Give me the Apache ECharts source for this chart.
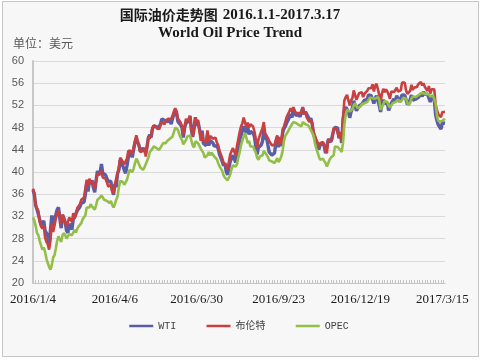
<!DOCTYPE html>
<html>
<head>
<meta charset="utf-8">
<script src="https://cdn.jsdelivr.net/npm/echarts@6/dist/echarts.min.js"></script>
<style>
html,body{margin:0;padding:0;background:#ffffff;}
#wrap{position:relative;width:482px;height:361px;}
#bg{position:absolute;left:2px;top:1px;width:475px;height:354px;border:1.5px solid #c6c6c6;background:#f7f7f7;}
#chart{position:absolute;left:0;top:0;width:482px;height:361px;}
</style>
</head>
<body>
<div id="wrap"><div id="bg"></div><div id="chart"></div></div>
<script>
// Trading-day categories: weekdays from start to end, minus days missing in the source
const startDate = '2016-01-04';
const endDate = '2017-03-17';
const missingDays = ['2016-02-08','2016-02-09','2016-02-10','2016-02-11','2016-02-12','2016-04-04','2017-01-02'];

const seriesNames = ['WTI', '布伦特', 'OPEC'];

const wti = [
36.76,35.97,33.97,33.27,33.16,31.41,30.44,30.48,31.20,29.42,29.0,28.46,26.55,29.53,32.19,30.34,31.45,32.30,33.22,33.62,
31.62,29.88,32.28,31.72,30.89,
29.44,29.04,30.66,30.77,29.64,
31.48,31.87,32.15,33.07,32.78,
33.75,34.40,34.66,34.57,35.92,
37.90,36.50,38.29,37.84,38.50,
37.18,36.34,38.46,40.20,39.44,
39.91,41.45,39.79,39.46,39.46,
39.39,38.28,38.32,38.34,36.79,
35.89,37.75,
37.26,39.72,
40.36,42.17,41.76,41.50,40.36,
39.78,41.08,42.63,43.18,43.73,
42.64,44.04,45.33,46.03,45.92,
44.78,43.65,43.78,44.32,44.66,
43.44,44.66,46.23,46.70,46.21,
47.72,48.31,48.19,48.16,47.75,
48.08,48.62,49.56,49.48,49.33,
49.33,49.10,49.01,49.17,48.62,
49.69,50.36,51.23,50.56,49.07,
48.88,48.49,48.01,46.21,47.98,
48.83,48.85,49.13,50.11,47.64,
46.33,47.85,49.88,48.33,48.99,
48.99,46.60,47.43,45.14,45.41,
44.76,46.80,44.75,45.68,45.95,
45.24,44.65,44.94,44.75,44.19,
43.13,42.92,41.92,41.14,41.60,
40.06,39.51,40.83,41.93,41.80,
43.02,42.77,41.71,43.49,44.49,
45.74,46.58,46.79,48.22,48.52,
47.05,48.10,46.77,47.33,47.64,
46.98,46.35,44.70,43.16,44.44,
44.44,44.83,45.50,47.62,45.88,
46.29,44.90,43.58,43.91,43.03,
43.30,43.44,45.34,46.32,44.48,
45.93,44.67,47.05,47.83,48.24,
48.81,48.69,49.83,50.44,49.81,
51.35,50.79,50.18,50.44,50.35,
49.94,50.29,51.60,50.43,50.85,
50.52,49.96,49.18,49.72,48.70,
46.86,46.67,45.34,44.66,44.07,
44.89,44.98,45.27,44.66,43.41,
43.32,45.81,45.57,45.42,45.69,
47.49,48.03,47.96,47.96,46.06,
47.08,45.23,49.44,51.06,51.68,
51.79,50.93,49.77,50.84,51.50,
52.83,52.98,51.04,50.90,51.90,
52.12,52.23,52.49,52.95,53.02,
53.02,53.90,54.06,53.77,53.72,
52.33,53.26,53.76,53.99,
51.96,50.82,52.25,53.01,52.37,
52.37,52.48,51.08,51.37,52.42,
52.75,53.18,52.75,53.78,53.17,
52.63,52.81,53.88,53.54,53.83,
53.01,52.17,52.34,53.00,53.86,
52.93,53.20,53.11,53.36,53.40,
53.40,54.06,53.59,54.45,53.99,
54.05,54.01,53.83,52.61,53.33,
53.20,53.14,50.28,49.28,48.49,
48.40,47.72,48.86,48.75,48.78
];

const brent = [
37.0,36.0,34.0,33.4,33.0,31.0,30.2,29.8,30.4,28.2,27.4,27.0,26.0,27.8,30.6,29.2,30.3,31.6,32.4,33.2,
32.0,30.6,32.3,31.6,30.9,
30.2,30.0,31.8,32.0,31.0,
32.6,31.6,32.5,33.5,33.4,
34.2,35.0,35.2,35.4,37.0,
38.6,37.6,38.8,38.0,38.4,
37.6,37.0,38.4,39.6,39.4,
39.8,40.2,39.0,38.8,38.8,
38.2,37.4,37.2,37.6,36.6,
36.2,37.8,
37.6,39.8,
40.8,42.6,42.2,42.0,41.4,
41.2,42.4,43.8,43.6,43.8,
43.2,44.4,45.6,46.6,46.5,
44.6,43.6,43.8,43.8,44.3,
42.8,44.4,46.4,46.0,46.8,
48.0,48.4,48.3,48.0,47.9,
47.7,48.0,49.0,48.9,48.6,
49.3,49.5,49.6,49.8,49.5,
50.2,50.9,51.5,50.9,49.6,
49.4,48.9,48.2,46.8,48.3,
49.6,49.0,49.0,50.1,47.6,
46.4,47.7,49.7,48.8,49.4,
49.2,45.6,47.0,45.6,45.9,
45.4,47.5,45.4,46.5,46.7,
46.0,46.2,46.2,45.3,44.8,
43.8,43.9,42.5,41.7,41.5,
41.1,40.6,41.9,43.2,43.2,
44.3,44.0,43.0,44.7,45.9,
47.2,48.2,48.8,49.8,49.8,
48.1,48.9,48.0,48.6,48.9,
48.2,47.3,46.0,44.4,45.8,
46.6,46.3,47.9,49.0,47.0,
47.3,46.1,45.6,45.6,44.8,
44.9,44.9,45.8,46.6,44.9,
46.3,45.0,47.7,48.2,48.1,
49.9,49.9,50.9,51.5,50.9,
51.7,51.0,50.6,50.7,50.6,
50.4,50.6,51.7,50.4,50.8,
49.8,49.8,49.0,49.5,48.7,
47.3,47.1,45.9,45.4,44.6,
45.2,45.0,45.4,44.8,43.8,
43.4,46.0,45.6,45.5,45.9,
47.9,48.1,47.9,48.0,46.2,
47.2,45.4,49.5,52.9,53.5,
53.9,52.9,52.0,52.9,53.3,
54.7,54.7,53.0,52.9,54.2,
53.9,54.4,53.5,54.1,54.2,
54.6,55.1,55.2,55.1,55.8,
54.5,55.5,55.9,56.1,
53.9,52.6,54.1,55.0,54.4,
54.9,54.5,53.9,53.2,54.5,
54.2,54.4,54.1,55.2,54.5,
54.2,54.7,56.1,55.9,56.1,
54.7,54.1,54.1,54.6,55.7,
54.8,55.2,55.0,55.3,55.8,
56.0,56.2,55.6,56.0,55.3,
55.0,54.6,55.5,54.1,54.9,
54.9,54.9,52.1,51.2,50.4,
50.4,49.9,50.8,50.7,50.8
];

const opec = [
31.8,31.2,30.3,29.0,28.6,27.6,26.8,26.0,26.4,25.6,24.4,23.6,22.9,22.4,23.2,24.6,25.0,26.2,27.6,28.4,
28.6,27.4,28.6,29.0,28.6,
28.0,28.2,28.8,29.0,28.6,
28.9,29.6,29.1,29.8,30.2,
30.4,30.8,31.5,31.6,32.2,
33.6,33.4,33.6,34.2,33.8,
33.9,33.2,34.0,35.0,35.3,
35.4,35.8,35.4,35.0,34.9,
34.8,34.6,34.4,34.8,34.1,
33.6,34.2,
35.0,35.6,
37.3,38.4,38.5,38.2,37.7,
37.4,38.6,39.5,40.4,40.2,
40.0,40.6,41.6,42.4,42.0,
41.4,40.8,40.6,40.4,40.8,
41.4,41.2,42.6,43.6,43.8,
44.2,44.6,44.6,44.3,44.2,
44.0,44.2,44.8,45.2,45.0,
45.2,45.6,45.8,46.0,45.9,
46.4,47.2,48.0,48.3,47.6,
46.8,46.2,45.8,45.0,44.9,
45.8,46.4,46.5,46.6,46.4,
44.8,44.4,45.5,45.8,45.2,
45.0,44.2,43.8,43.4,42.6,
42.4,43.0,43.6,43.0,43.5,
43.3,42.8,42.5,42.3,41.6,
41.0,40.6,40.2,39.4,39.0,
38.8,38.5,38.8,39.6,40.6,
41.2,41.4,41.0,41.4,42.6,
43.6,44.8,45.6,46.4,47.0,
46.2,45.2,45.6,44.6,44.8,
44.6,44.0,43.5,42.6,42.2,
42.8,43.0,43.0,43.8,43.6,
43.1,42.7,42.1,41.8,41.9,
41.6,41.6,41.8,42.5,41.8,
42.2,42.8,43.8,45.6,46.5,
46.8,47.3,47.6,48.2,48.6,
49.0,49.3,48.8,48.6,48.5,
48.5,48.2,49.0,49.1,48.6,
48.6,48.4,48.0,47.6,47.6,
46.6,45.3,44.3,43.6,42.8,
42.2,42.0,42.4,42.0,41.6,
41.0,41.2,42.2,42.6,42.5,
43.0,44.6,44.9,44.5,44.4,
44.0,43.6,45.2,48.5,50.2,
51.2,51.5,50.9,50.7,51.3,
52.0,52.4,51.9,51.5,51.6,
51.8,52.2,52.4,52.4,52.6,
52.6,52.9,53.4,53.6,53.3,
53.1,53.2,53.3,53.5,
53.0,51.2,51.6,52.2,52.8,
52.8,52.6,52.0,51.6,52.0,
52.4,52.5,52.6,52.8,53.0,
52.8,52.6,53.0,53.4,53.6,
53.2,52.4,52.0,52.4,53.2,
53.6,53.6,53.5,53.6,53.8,
53.8,54.2,54.1,54.2,54.0,
54.0,54.1,54.0,53.6,53.5,
53.8,53.9,52.4,50.2,49.2,
49.0,49.1,48.9,49.4,49.6
];

const yTicks = {min: 20, max: 60, step: 4};
const colors = ['#5B5EA6', '#C8403F', '#93BF48'];
const widths = [3.4, 2.6, 2.6];

// build category list
function pad(n){return n < 10 ? '0' + n : '' + n;}
const categories = [];
(function(){
  const d = new Date(startDate + 'T00:00:00Z');
  const end = new Date(endDate + 'T00:00:00Z');
  while (d <= end) {
    const wd = d.getUTCDay();
    const iso = d.getUTCFullYear() + '-' + pad(d.getUTCMonth()+1) + '-' + pad(d.getUTCDate());
    if (wd !== 0 && wd !== 6 && missingDays.indexOf(iso) < 0) {
      categories.push(d.getUTCFullYear() + '/' + (d.getUTCMonth()+1) + '/' + d.getUTCDate());
    }
    d.setUTCDate(d.getUTCDate() + 1);
  }
})();

const chart = echarts.init(document.getElementById('chart'), null, {renderer: 'canvas'});
const seriesData = [wti, brent, opec];
chart.setOption({
  animation: false,
  color: colors,
  title: [
    {
      text: '{a|国际油价走势图} {b|2016.1.1-2017.3.17}',
      left: 230, top: 6, textAlign: 'center', padding: 0,
      textStyle: {
        rich: {
          a: {fontFamily: 'Noto Sans CJK SC', fontWeight: 'bold', fontSize: 14, color: '#1a1a1a'},
          b: {fontFamily: 'Liberation Serif', fontWeight: 'bold', fontSize: 15, color: '#1a1a1a'}
        }
      }
    },
    {
      text: 'World Oil Price Trend',
      left: 230, top: 26, textAlign: 'center', padding: 0,
      textStyle: {fontFamily: 'Liberation Serif', fontWeight: 'bold', fontSize: 15, color: '#1a1a1a'}
    },
    {
      text: '单位：美元',
      left: 13, top: 37, padding: 0,
      textStyle: {fontFamily: 'Noto Sans CJK SC', fontWeight: 'normal', fontSize: 12, color: '#595959'}
    }
  ],
  legend: {
    left: 128, top: 321, padding: 0,
    itemWidth: 24, itemHeight: 12, itemGap: 29,
    data: seriesNames,
    lineStyle: {width: 2.5},
    itemStyle: {opacity: 0},
    textStyle: {fontFamily: 'Liberation Mono, Noto Sans CJK SC', fontSize: 10, color: '#404040'}
  },
  grid: {left: 33, right: 37, top: 61, bottom: 78},
  xAxis: {
    type: 'category',
    boundaryGap: false,
    data: categories,
    axisLine: {lineStyle: {color: '#c4c4c4', width: 1}},
    axisTick: {show: true, inside: true, length: 3, interval: 1, lineStyle: {color: '#c4c4c4'}},
    axisLabel: {interval: 60, color: '#1a1a1a', fontFamily: 'Liberation Serif', fontSize: 13, margin: 10},
    splitLine: {show: false}
  },
  yAxis: {
    type: 'value',
    min: yTicks.min, max: yTicks.max, interval: yTicks.step,
    axisLine: {show: true, lineStyle: {color: '#c8c8c8', width: 2}},
    axisTick: {show: false},
    axisLabel: {color: '#595959', fontFamily: 'Liberation Sans', fontSize: 11, margin: 9},
    splitLine: {lineStyle: {color: '#d9d9d9', width: 1}}
  },
  series: seriesNames.map(function(name, i){
    return {
      name: name,
      type: 'line',
      data: seriesData[i],
      symbol: 'none',
      lineStyle: {width: widths[i], color: colors[i]},
      itemStyle: {color: colors[i]}
    };
  })
});
</script>
</body>
</html>
